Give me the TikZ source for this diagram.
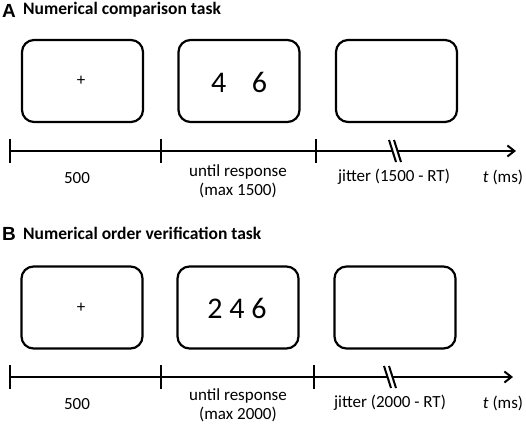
\documentclass[tikz,border=0pt]{standalone}
\usepackage{fontspec}
\setmainfont{Carlito}
\newfontfamily\letterfont{Liberation Sans}
\usetikzlibrary{arrows.meta}
\tikzset{
  screen/.style={draw, line width=2.2pt, rounded corners=12pt, minimum width=121pt, minimum height=82pt, inner sep=0pt},
  axis/.style={line width=2pt},
  tickmark/.style={line width=2pt},
  lbl/.style={font=\fontsize{17}{19}\selectfont, align=center, inner sep=0pt},
  title/.style={font=\fontsize{17.5}{19}\selectfont\bfseries, anchor=west, inner sep=0pt},
  letter/.style={font=\letterfont\fontsize{19}{20}\selectfont\bfseries, anchor=west, inner sep=0pt},
  digits/.style={font=\fontsize{30}{32}\selectfont, inner sep=0pt},
  plus/.style={font=\fontsize{17}{19}\selectfont, inner sep=0pt}
}
\begin{document}
\begin{tikzpicture}[x=1pt,y=-1pt]
\useasboundingbox (0,0) rectangle (526,425);
% ---------- Panel A ----------
\node[letter] (Aletter) at (2,11) {A};
\node[title] (Atitle) at (23,10) {Numerical comparison task};
\node[screen] (A1) at (82.5,81) {};
\node[screen] (A2) at (239,81) {};
\node[screen] (A3) at (396.5,81) {};
\node[plus] (Aplus) at (81,81) {+};
\node[digits] (Adig) at (239,82) {4\hspace{0.85em}6};
\coordinate (At0) at (10,151);
\coordinate (At1) at (161,151);
\coordinate (At2) at (316,151);
\coordinate (Abrk) at (395,151);
\coordinate (Aend) at (516,151);
\draw[axis] (At0) -- ([xshift=-3pt]Abrk);
\draw[axis,-{Straight Barb[length=7pt,width=11pt,line width=2pt]}] ([xshift=3pt]Abrk) -- (Aend);
\draw[tickmark] ([yshift=-12pt]At0) -- ([yshift=12pt]At0);
\draw[tickmark] ([yshift=-12pt]At1) -- ([yshift=12pt]At1);
\draw[tickmark] ([yshift=-12pt]At2) -- ([yshift=12pt]At2);
\draw[tickmark] ([xshift=-6pt,yshift=11pt]Abrk) -- ([xshift=1pt,yshift=-11pt]Abrk);
\draw[tickmark] ([xshift=-1pt,yshift=11pt]Abrk) -- ([xshift=6pt,yshift=-11pt]Abrk);
\node[lbl] (Al1) at (77,178) {500};
\node[lbl] (Al2) at (238,181) {until response\\(max 1500)};
\node[lbl] (Al3) at (394,177) {jitter (1500 - RT)};
\node[lbl] (Al4) at (503,177) {\textit{t} (ms)};
% ---------- Panel B ----------
\node[letter] (Bletter) at (2,234) {B};
\node[title] (Btitle) at (23,233) {Numerical order verification task};
\node[screen] (B1) at (82,307.5) {};
\node[screen] (B2) at (238,307.5) {};
\node[screen] (B3) at (395,307.5) {};
\node[plus] (Bplus) at (81,307.5) {+};
\node[digits] (Bdig) at (237,308) {2 4 6};
\coordinate (Bt0) at (10,377);
\coordinate (Bt1) at (161,377);
\coordinate (Bt2) at (314,377);
\coordinate (Bbrk) at (390,377);
\coordinate (Bend) at (513,377);
\draw[axis] (Bt0) -- ([xshift=-3pt]Bbrk);
\draw[axis,-{Straight Barb[length=7pt,width=11pt,line width=2pt]}] ([xshift=3pt]Bbrk) -- (Bend);
\draw[tickmark] ([yshift=-12pt]Bt0) -- ([yshift=12pt]Bt0);
\draw[tickmark] ([yshift=-12pt]Bt1) -- ([yshift=12pt]Bt1);
\draw[tickmark] ([yshift=-12pt]Bt2) -- ([yshift=12pt]Bt2);
\draw[tickmark] ([xshift=-6pt,yshift=11pt]Bbrk) -- ([xshift=1pt,yshift=-11pt]Bbrk);
\draw[tickmark] ([xshift=-1pt,yshift=11pt]Bbrk) -- ([xshift=6pt,yshift=-11pt]Bbrk);
\node[lbl] (Bl1) at (77,404) {500};
\node[lbl] (Bl2) at (238,405) {until response\\(max 2000)};
\node[lbl] (Bl3) at (390,403) {jitter (2000 - RT)};
\node[lbl] (Bl4) at (503,403) {\textit{t} (ms)};
\end{tikzpicture}
\end{document}
